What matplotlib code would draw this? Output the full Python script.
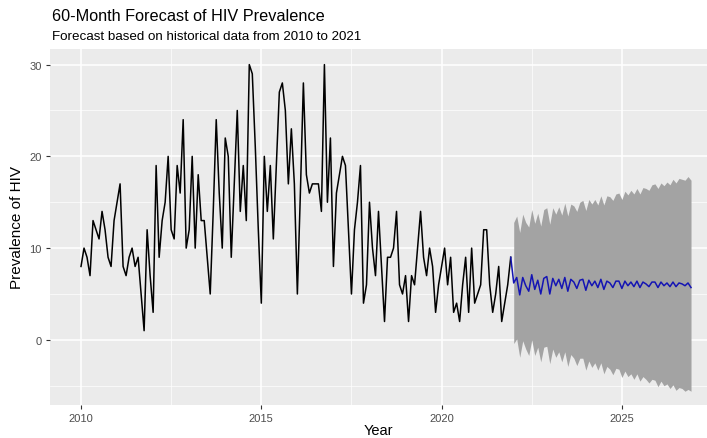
import numpy as np
import matplotlib
matplotlib.use("Agg")
import matplotlib.pyplot as plt
from matplotlib.ticker import MultipleLocator

plt.rcParams['font.family'] = ['Liberation Sans', 'DejaVu Sans']

# Monthly HIV prevalence, Jan 2010 - Dec 2021
hist_values = [8, 10, 9, 7, 13, 12, 11, 14, 12, 9, 8, 13,
               15, 17, 8, 7, 9, 10, 8, 9, 5, 1, 12, 7,
               3, 19, 9, 13, 15, 20, 12, 11, 19, 16, 24, 10,
               12, 20, 10, 18, 13, 13, 9, 5, 14, 24, 16, 10,
               22, 20, 9, 17, 25, 14, 19, 13, 30, 29, 21, 12,
               4, 20, 14, 19, 11, 19, 27, 28, 25, 17, 23, 17,
               5, 16, 28, 18, 16, 17, 17, 17, 14, 30, 15, 22,
               8, 16, 18, 20, 19, 12, 5, 12, 15, 19, 4, 6,
               15, 10, 7, 14, 8, 2, 9, 9, 10, 14, 6, 5,
               7, 2, 7, 6, 10, 14, 9, 7, 10, 8, 3, 6,
               8, 10, 6, 9, 3, 4, 2, 6, 9, 3, 10, 4,
               5, 6, 12, 12, 6, 3, 5, 8, 2, 4, 6, 9]

# 60-month forecast, Jan 2022 - Dec 2026
fc_mean = [6.2, 6.8, 4.9, 6.8, 5.9, 5.3, 7.1, 5.5, 6.5, 5.0, 6.7, 6.9,
           5.0, 6.7, 5.9, 6.6, 5.6, 6.8, 5.3, 6.6, 6.3, 5.6, 6.5, 6.6,
           5.4, 6.5, 5.9, 6.4, 5.7, 6.6, 5.5, 6.4, 6.2, 5.7, 6.4, 6.4,
           5.6, 6.4, 5.9, 6.3, 5.8, 6.4, 5.7, 6.3, 6.1, 5.8, 6.3, 6.3,
           5.7, 6.3, 5.9, 6.2, 5.8, 6.3, 5.8, 6.2, 6.1, 5.9, 6.2, 5.7]
fc_hi = [12.8, 13.5, 11.7, 13.7, 12.8, 12.3, 14.2, 12.7, 13.8, 12.4, 14.2, 14.4,
         12.6, 14.4, 13.7, 14.5, 13.6, 14.9, 13.5, 14.8, 14.6, 14.0, 15.0, 15.2,
         14.1, 15.3, 14.8, 15.3, 14.7, 15.7, 14.7, 15.7, 15.6, 15.2, 15.9, 16.0,
         15.3, 16.2, 15.8, 16.3, 15.9, 16.5, 15.9, 16.6, 16.5, 16.3, 16.9, 17.0,
         16.5, 17.1, 16.8, 17.2, 16.9, 17.5, 17.1, 17.6, 17.5, 17.4, 17.8, 17.4]
fc_lo = [-0.4, 0.1, -1.9, -0.1, -1.0, -1.7, 0.0, -1.7, -0.8, -2.4, -0.8, -0.7,
         -2.6, -1.0, -1.9, -1.3, -2.4, -1.3, -2.9, -1.6, -2.0, -2.8, -2.0, -2.0,
         -3.3, -2.3, -3.0, -2.5, -3.3, -2.5, -3.7, -2.9, -3.2, -3.8, -3.1, -3.2,
         -4.1, -3.4, -4.0, -3.7, -4.3, -3.7, -4.5, -4.0, -4.3, -4.7, -4.3, -4.4,
         -5.1, -4.5, -5.0, -4.8, -5.3, -4.9, -5.5, -5.2, -5.3, -5.6, -5.4, -5.6]

x_ticks = [2010, 2015, 2020, 2025]
y_ticks = [0, 10, 20, 30]

hist_t = 2010 + np.arange(len(hist_values)) / 12
fc_t = 2022 + np.arange(len(fc_mean)) / 12

fig = plt.figure(figsize=(7.07, 4.39), dpi=100)
ax = fig.add_axes([50 / 707, 1 - 406 / 439, 657 / 707, 356 / 439])
ax.set_facecolor('#EBEBEB')

ax.fill_between(fc_t, fc_lo, fc_hi, color='#A3A3A3', lw=0, zorder=2)
ax.plot(hist_t, hist_values, color='black', lw=1.1, zorder=3)
ax.plot(np.r_[hist_t[-1], fc_t], np.r_[hist_values[-1], fc_mean],
        color='#1414B4', lw=1.1, zorder=4)

ax.set_xlim(2009.14, 2027.36)
ax.set_ylim(-7.1, 31.7)
ax.set_xticks(x_ticks)
ax.set_yticks(y_ticks)
ax.xaxis.set_minor_locator(MultipleLocator(2.5))
ax.yaxis.set_minor_locator(MultipleLocator(5))
ax.grid(which='major', color='white', lw=1.1, zorder=0)
ax.grid(which='minor', color='white', lw=0.5, zorder=0)
ax.set_axisbelow(True)
for s in ax.spines.values():
    s.set_visible(False)
ax.tick_params(which='major', length=3, color='#333333', labelsize=8, labelcolor='#4D4D4D', pad=3)
ax.tick_params(which='minor', length=0)

ax.set_xlabel('Year', fontsize=10.5, labelpad=0)
ax.set_ylabel('Prevalence of HIV', fontsize=11, labelpad=4)

fig.text(52 / 707, 1 - 21 / 439, '60-Month Forecast of HIV Prevalence', fontsize=11.7, va='baseline')
fig.text(52 / 707, 1 - 40 / 439, 'Forecast based on historical data from 2010 to 2021', fontsize=9.6, va='baseline')

fig.savefig('out.png', dpi=100)
